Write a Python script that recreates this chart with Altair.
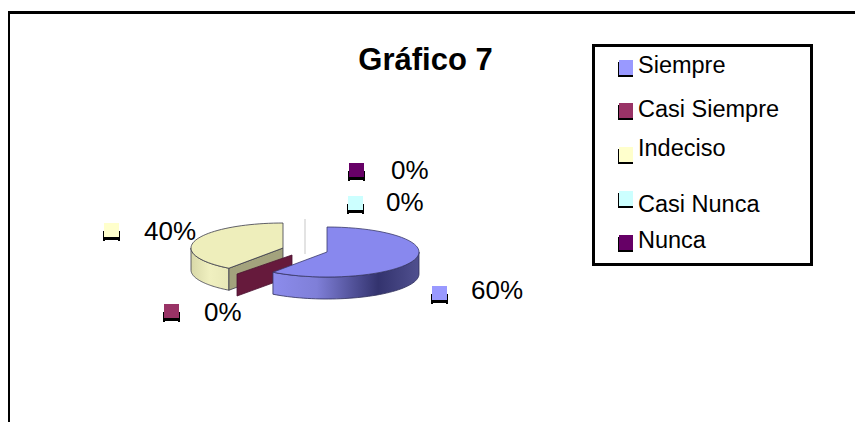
import math
import altair as alt

TITLE = "Gráfico 7"
categories = ["Siempre", "Casi Siempre", "Indeciso", "Casi Nunca", "Nunca"]
shares = [60, 0, 40, 0, 0]
label_texts = ["60%", "0%", "40%", "0%", "0%"]
colors = ["#9999ff", "#993366", "#ffffcc", "#ccffff", "#660066"]

# layout (picture pixels)
W, H = 855, 422
legend_text_y = [66, 110, 149, 205, 241]
legend_box_y = [60, 103, 147, 191, 235]
label_text_xy = [(471, 291), (204, 313), (144, 232), (386, 203), (391, 171)]
label_box_xy = [(432, 286), (164, 304), (104, 223), (348, 196), (349, 163)]
RX, RY, DEPTH = 92, 25, 22

X = alt.X("x:Q", scale=alt.Scale(domain=[8, W]), axis=None)
Y = alt.Y("y:Q", scale=alt.Scale(domain=[H, 8]), axis=None)


def ell(cx, cy, deg):
    a = math.radians(deg)
    return cx + RX * math.sin(a), cy - RY * math.cos(a)


def arc(cx, cy, a0, a1, n=48):
    return [ell(cx, cy, a0 + (a1 - a0) * i / n) for i in range(n + 1)]


def poly(points, fill, stroke=None, sw=0.8):
    vals = [{"x": p[0], "y": p[1], "i": i} for i, p in enumerate(points + points[:1])]
    kw = dict(fill=fill, strokeWidth=sw, stroke=stroke or "transparent", interpolate="linear")
    return alt.Chart(alt.Data(values=vals)).mark_line(**kw).encode(x=X, y=Y, order=alt.Order("i:Q"))


def rect(x0, y0, x1, y1, fill):
    return alt.Chart(alt.Data(values=[{"x": x0, "y": y0, "x2": x1, "y2": y1}])).mark_rect(
        fill=fill, stroke=None).encode(x=X, y=Y, x2="x2:Q", y2="y2:Q")


def text(s, x, y, size, bold=False, align="left"):
    return alt.Chart(alt.Data(values=[{"x": x, "y": y, "t": s}])).mark_text(
        text=s, font="Liberation Sans", fontSize=size, fontWeight="bold" if bold else "normal",
        align=align, baseline="middle", color="#000000").encode(x=X, y=Y)


def grad(stops):
    return alt.Gradient(gradient="linear", x1=0, x2=1, y1=0, y2=0,
                        stops=[alt.GradientStop(offset=o, color=c) for o, c in stops])


layers = []

# outer frame: top and left edges only
layers += [rect(8, 11, 10, H, "#000"), rect(8, 11, W, 14, "#000")]

# angles from the shares
a_blue = 360 * shares[0] / sum(shares)
BC = (327, 252)
YC = (283, 248)
EDGE = "#3a3a4a"

# guide line
layers.append(rect(304.5, 219, 305.5, 254, "#c8c8c8"))

# Indeciso slice
tipY = ell(*YC, a_blue)
arcY_side = arc(*YC, a_blue, 270)
layers.append(poly(arcY_side + [(x, y + DEPTH) for x, y in reversed(arcY_side)],
                   grad([(0, "#d8d8a8"), (0.5, "#f0f0c0"), (1, "#e8e8b8")]), EDGE))
layers.append(poly([YC, tipY, (tipY[0], tipY[1] + DEPTH), (YC[0], YC[1] + DEPTH)], "#a3a37d", EDGE))
layers.append(poly([YC] + arc(*YC, a_blue, 360), "#eeeebb", EDGE))

# Casi Siempre sliver
layers.append(poly([(237, 274), (292, 255), (292, 276), (237, 296)], "#661a3c", "#4a1030"))

# Siempre slice
tipB = ell(*BC, a_blue)
arcB_side = arc(*BC, 90, a_blue)
layers.append(poly(arcB_side + [(x, y + DEPTH) for x, y in reversed(arcB_side)],
                   grad([(0, "#8c8cec"), (0.3, "#7f7fd8"), (0.72, "#33336e"), (1, "#50508f")]), "#2f2f5a"))
layers.append(poly([BC] + arc(*BC, 0, a_blue), "#8888ee", "#3a3a6a"))

# title
layers.append(text(TITLE, 425.5, 61, 31, bold=True, align="center"))

# legend
layers += [rect(592, 44, 813, 47, "#000"), rect(592, 263, 813, 266, "#000"),
           rect(592, 44, 595, 266, "#000"), rect(810, 44, 813, 266, "#000")]
for c, col, ty, by in zip(categories, colors, legend_text_y, legend_box_y):
    layers.append(rect(618, by + 2, 633, by + 17, "#000"))
    layers.append(rect(619, by, 633, by + 15, col))
    layers.append(text(c, 638, ty, 23.5))

# data labels
for s, col, (tx, ty), (bx, by) in zip(label_texts, colors, label_text_xy, label_box_xy):
    layers.append(rect(bx - 1, by + 14, bx + 16, by + 17, "#000"))
    layers.append(rect(bx - 1, by + 8, bx + 1, by + 18, "#000"))
    layers.append(rect(bx + 14, by + 8, bx + 16, by + 18, "#000"))
    layers.append(rect(bx, by, bx + 15, by + 14, col))
    layers.append(text(s, tx, ty, 26))

chart = alt.layer(*layers).properties(
    width=W - 8, height=H - 8, padding=0,
    background="#ffffff",
).configure_view(stroke=None)

chart.save("out.html", embed_options={"renderer": "svg", "actions": False})
